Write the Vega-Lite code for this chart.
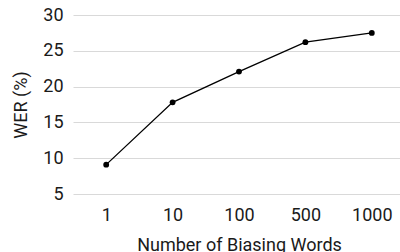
{
  "$schema": "https://vega.github.io/schema/vega-lite/v6.json",
  "width": 332,
  "height": 179,
  "autosize": {"type": "none"},
  "padding": {"left": 73, "top": 15, "right": 0, "bottom": 58},
  "background": "white",
  "data": {
    "values": [
      {"words": "1", "wer": 9.1},
      {"words": "10", "wer": 17.8},
      {"words": "100", "wer": 22.1},
      {"words": "500", "wer": 26.2},
      {"words": "1000", "wer": 27.5}
    ]
  },
  "config": {
    "view": {"stroke": null},
    "font": "Roboto",
    "axis": {
      "labelFont": "Roboto",
      "titleFont": "Roboto",
      "labelFontSize": 18,
      "titleFontSize": 18,
      "labelColor": "#1a1a1a",
      "titleColor": "#1a1a1a",
      "titleFontWeight": "normal",
      "domain": false,
      "ticks": false
    }
  },
  "encoding": {
    "x": {
      "field": "words",
      "type": "ordinal",
      "sort": null,
      "scale": {"type": "point", "padding": 0.5},
      "axis": {
        "title": "Number of Biasing Words",
        "labelAngle": 0,
        "grid": false,
        "labelPadding": 12,
        "titleY": 56,
        "titleBaseline": "alphabetic"
      }
    },
    "y": {
      "field": "wer",
      "type": "quantitative",
      "scale": {"domain": [5, 30], "nice": false, "zero": false},
      "axis": {
        "title": "WER (%)",
        "values": [5, 10, 15, 20, 25, 30],
        "grid": true,
        "gridColor": "#d9d9d9",
        "gridWidth": 1,
        "labelPadding": 10,
        "titleX": -52,
        "titleBaseline": "middle"
      }
    }
  },
  "layer": [
    {"mark": {"type": "line", "color": "black", "strokeWidth": 1.3}},
    {"mark": {"type": "point", "filled": true, "color": "black", "size": 34, "opacity": 1}}
  ]
}
